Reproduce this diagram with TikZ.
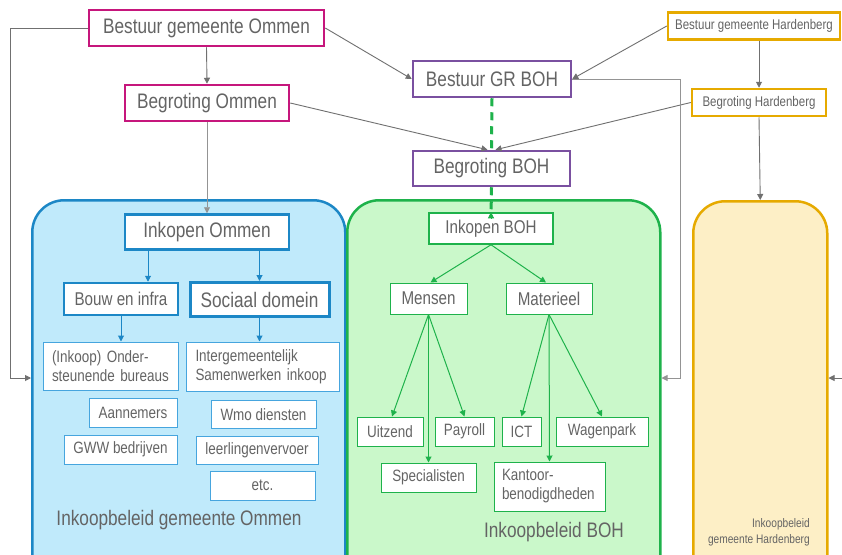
\documentclass[tikz,border=0pt]{standalone}
\usepackage{fontspec}
\setmainfont{Liberation Sans}[FakeStretch=0.82]
\usetikzlibrary{arrows.meta}
\definecolor{magc}{RGB}{198,22,124}
\definecolor{purc}{RGB}{122,80,160}
\definecolor{orc}{RGB}{230,170,0}
\definecolor{orf}{RGB}{253,239,198}
\definecolor{bluec}{RGB}{28,135,198}
\definecolor{bluel}{RGB}{70,165,222}
\definecolor{bluef}{RGB}{192,234,251}
\definecolor{greenc}{RGB}{30,178,75}
\definecolor{greenf}{RGB}{202,248,202}
\definecolor{txt}{RGB}{100,100,100}
\definecolor{conn}{RGB}{112,112,112}
\tikzset{
  f21/.style={font=\fontsize{21}{25}\selectfont},
  f18/.style={font=\fontsize{18.5}{22}\selectfont},
  f16/.style={font=\fontsize{16.4}{19}\selectfont},
  f14/.style={font=\fontsize{14}{17}\selectfont},
  f12/.style={font=\fontsize{12.4}{16}\selectfont},
  bx/.style={draw, fill=white, text=txt, inner sep=0pt},
  magbox/.style={bx, draw=magc, line width=2.5pt},
  purbox/.style={bx, draw=purc, line width=2.5pt},
  orbox/.style={bx, draw=orc, line width=2.5pt},
  bthick/.style={bx, draw=bluec, line width=2.5pt},
  bthin/.style={bx, draw=bluel, line width=1pt},
  gthin/.style={bx, draw=greenc, line width=1pt},
  container/.style={rounded corners=32pt, line width=2.5pt, anchor=north west, inner sep=0pt},
  tip/.style={-{Triangle[length=6pt,width=6pt]}},
  garrow/.style={draw=conn, line width=0.9pt, tip},
  gline/.style={draw=conn!75, line width=0.9pt, tip},
  barrow/.style={draw=bluec, line width=1pt, tip},
  grarrow/.style={draw=greenc, line width=1pt, tip},
  gdash/.style={draw=greenc, line width=3pt, dash pattern=on 8pt off 6pt},
  lab/.style={text=txt, inner sep=0pt},
}
\begin{document}
\begin{tikzpicture}[x=1pt,y=-1pt]
\useasboundingbox (0,0) rectangle (842,554);
\clip (0,0) rectangle (842,554);
\fill[white] (0,0) rectangle (842,554);
\coordinate (yarr) at (0,378);
\coordinate (rend) at (842,378);

% containers
\node[container, draw=bluec, fill=bluef, minimum width=313pt, minimum height=390pt] (ommen) at (31,199) {};
\node[container, draw=greenc, fill=greenf, minimum width=313pt, minimum height=390pt] (boh) at (346,199) {};
\node[container, draw=orc, fill=orf, minimum width=134pt, minimum height=390pt] (hard) at (692,200) {};

% top boxes
\node[magbox, f21, minimum width=235pt, minimum height=36pt] (bgo) at (206.5,28) {Bestuur gemeente Ommen};
\node[magbox, f21, minimum width=164pt, minimum height=36pt] (bro) at (207,103) {Begroting Ommen};
\node[purbox, f21, minimum width=158pt, minimum height=36pt] (bgr) at (492,79) {Bestuur GR BOH};
\node[purbox, f21, minimum width=157pt, minimum height=35pt] (brb) at (491.5,168.5) {Begroting BOH};
\node[orbox, f14, minimum width=172pt, minimum height=27pt] (bgh) at (754,26) {Bestuur gemeente Hardenberg};
\node[orbox, f14, minimum width=134pt, minimum height=27pt] (brh) at (759,102.5) {Begroting Hardenberg};

% Ommen interior
\node[bthick, f21, minimum width=164pt, minimum height=35pt] (inko) at (207,232) {Inkopen Ommen};
\node[bthick, f18, minimum width=114pt, minimum height=32pt] (bouw) at (121,299) {Bouw en infra};
\node[bthick, f21, line width=3pt, minimum width=139pt, minimum height=34pt] (soc) at (259.5,299.5) {Sociaal domein};
\node[bthin, f16, text width=117pt, inner xsep=9pt, align=left, minimum height=48pt] (onder) at (110.5,366) {(Inkoop) Onder-\\steunende bureaus};
\node[bthin, f16, text width=135pt, inner xsep=9pt, align=left, minimum height=49pt] (inter) at (263,366.5) {Intergemeentelijk\\Samenwerken inkoop};
\node[bthin, f16, minimum width=88pt, minimum height=29pt] (aann) at (133,412.5) {Aannemers};
\node[bthin, f16, minimum width=113pt, minimum height=29pt] (gww) at (120.5,449.5) {GWW bedrijven};
\node[bthin, f16, minimum width=105pt, minimum height=28pt] (wmo) at (263.5,414.5) {Wmo diensten};
\node[bthin, f16, minimum width=122pt, minimum height=28pt] (leer) at (257,450.5) {leerlingenvervoer};
\node[bthin, f16, minimum width=105pt, minimum height=29pt] (etc) at (262.5,485.5) {etc.};
\node[lab, f21] (lomm) at (179,520) {Inkoopbeleid gemeente Ommen};

% BOH interior
\node[gthin, f18, line width=1.5pt, minimum width=124pt, minimum height=31pt] (inkb) at (491,228.5) {Inkopen BOH};
\node[gthin, f18, minimum width=77pt, minimum height=31pt] (mens) at (428.5,298.5) {Mensen};
\node[gthin, f18, minimum width=86pt, minimum height=31pt] (mat) at (549,298.5) {Materieel};
\node[gthin, f16, minimum width=66pt, minimum height=29pt] (uitz) at (390,431.5) {Uitzend};
\node[gthin, f16, minimum width=59pt, minimum height=29pt] (pay) at (464.5,431.5) {Payroll};
\node[gthin, f16, minimum width=39pt, minimum height=29pt] (ict) at (521.5,431.5) {ICT};
\node[gthin, f16, minimum width=92pt, minimum height=29pt] (wag) at (602,431.5) {Wagenpark};
\node[gthin, f16, minimum width=95pt, minimum height=29pt] (spec) at (428.5,477.5) {Specialisten};
\node[gthin, f16, text width=95pt, inner xsep=8pt, align=left, minimum height=49pt] (kant) at (549.5,486.5) {Kantoor-\\benodigdheden};
\node[lab, f21] (lboh) at (554,532) {Inkoopbeleid BOH};

% Hardenberg label
\node[lab, f12, align=right, anchor=east] (lhar) at (810,532) {Inkoopbeleid\\gemeente Hardenberg};

% gray connectors
\draw[garrow] (bgo.west) -| (10,378) -- (ommen.west |- yarr);
\draw[garrow] (bgo.south) -- (bro.north);
\draw[garrow] (bgo.east) -- (bgr.west);
\draw[garrow] (bro.east) -- ([xshift=-4pt]brb.north);
\draw[garrow] (brh.west) -- ([xshift=4pt]brb.north);
\draw[gline] (bro.south) -- (inko.north);
\draw[garrow] (bgh.west) -- (bgr.east);
\draw[garrow] (bgh.south -| brh.north) -- (brh.north);
\draw[garrow] (brh.south) -- (hard.north);
\draw[gline] (bgr.east) -| (680,378) -- (boh.east |- yarr);
\draw[garrow] (rend) -- (hard.east |- rend);

% green dashed
\draw[gdash] (bgr.south) -- (brb.north);
\draw[gdash] (brb.south) -- ([yshift=-5pt]inkb.north);
\draw[grarrow] ([yshift=-6pt]inkb.north) -- (inkb.north);

% blue arrows
\draw[barrow] ([xshift=-59pt]inko.south) -- ([xshift=-59pt]inko.south |- bouw.north);
\draw[barrow] (inko.south -| soc.north) -- (soc.north);
\draw[barrow] (bouw.south) -- (bouw.south |- onder.north);
\draw[barrow] (soc.south) -- (soc.south |- inter.north);

% green arrows
\draw[grarrow] (inkb.south) -- ([xshift=2pt]mens.north);
\draw[grarrow] (inkb.south) -- ([xshift=-3pt]mat.north);
\draw[grarrow] (mens.south) -- ([xshift=2pt]uitz.north);
\draw[grarrow] (mens.south) -- (spec.north);
\draw[grarrow] (mens.south) -- (pay.north);
\draw[grarrow] (mat.south) -- (ict.north);
\draw[grarrow] (mat.south) -- (kant.north);
\draw[grarrow] (mat.south) -- (wag.north);
\end{tikzpicture}
\end{document}
